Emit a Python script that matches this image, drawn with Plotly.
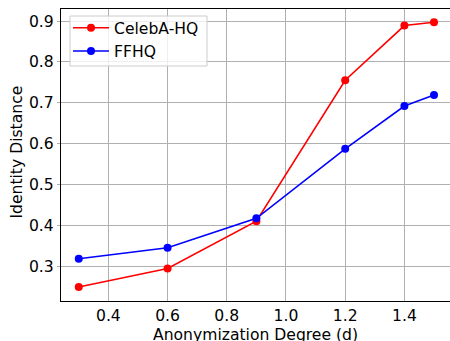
import plotly.graph_objects as go

degrees = [0.3, 0.6, 0.9, 1.2, 1.4, 1.5]
celeba_hq = [0.249, 0.294, 0.410, 0.755, 0.889, 0.897]
ffhq = [0.318, 0.345, 0.417, 0.587, 0.692, 0.719]
x_ticks = [0.4, 0.6, 0.8, 1.0, 1.2, 1.4]
y_ticks = [0.3, 0.4, 0.5, 0.6, 0.7, 0.8, 0.9]

font = "DejaVu Sans"
fs = 15.6
fig = go.Figure()
fig.add_trace(go.Scatter(x=degrees, y=celeba_hq, mode="lines+markers", name="CelebA-HQ",
                         line=dict(color="#ff0000", width=1.6), marker=dict(color="#ff0000", size=8)))
fig.add_trace(go.Scatter(x=degrees, y=ffhq, mode="lines+markers", name="FFHQ",
                         line=dict(color="#0000ff", width=1.6), marker=dict(color="#0000ff", size=8)))

fig.update_layout(
    width=450, height=341,
    margin=dict(l=61, r=0, t=9, b=40, autoexpand=False),
    plot_bgcolor="white", paper_bgcolor="white",
    font=dict(family=font, size=fs, color="#000000"),
    legend=dict(x=0.018, y=0.993, xanchor="left", yanchor="top",
                bgcolor="rgba(0,0,0,0)", borderwidth=0,
                font=dict(size=fs), itemwidth=36, tracegroupgap=0),
    shapes=[dict(type="rect", xref="paper", yref="paper", x0=0.0231, x1=0.3753, y0=0.8048, y1=0.976,
                 line=dict(color="#cccccc", width=1), fillcolor="rgba(255,255,255,0.8)", layer="above")],
    xaxis=dict(range=[0.24, 1.554], tickvals=x_ticks, ticktext=[f"{v:.1f}" for v in x_ticks],
               showgrid=True, gridcolor="#b0b0b0", gridwidth=1,
               showline=True, linecolor="#000000", linewidth=1.2, mirror=True,
               ticks="",
               zeroline=False, automargin=False, tickfont=dict(size=fs)),
    yaxis=dict(range=[0.2145, 0.9295], tickvals=y_ticks, ticktext=[f"{v:.1f}" for v in y_ticks],
               showgrid=True, gridcolor="#b0b0b0", gridwidth=1,
               showline=True, linecolor="#000000", linewidth=1.2, mirror=False,
               ticks="outside", ticklen=3, tickcolor="#b0b0b0",
               zeroline=False, automargin=False, tickfont=dict(size=fs)),
    annotations=[
        dict(text="Anonymization Degree (d)", xref="paper", yref="paper", x=0.5, y=-0.078,
             xanchor="center", yanchor="top", showarrow=False, font=dict(size=fs)),
        dict(text="Identity Distance", xref="paper", yref="paper", x=-0.1118, y=0.51,
             xanchor="center", yanchor="middle", textangle=-90, showarrow=False, font=dict(size=fs)),
    ],
)
fig.write_html("out.html", config={"displayModeBar": False},
               post_script="document.body.style.margin='0';document.body.style.overflow='hidden';")
